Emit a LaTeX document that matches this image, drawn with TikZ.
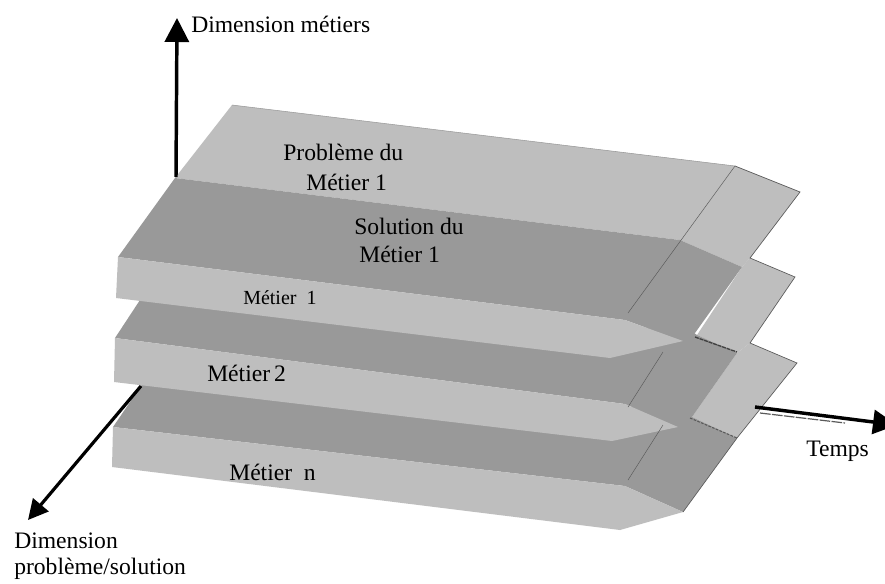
\documentclass[tikz,border=0pt]{standalone}
\usepackage{fontspec}
\setmainfont{Liberation Serif}
\usetikzlibrary{arrows.meta,positioning}

\definecolor{lightface}{HTML}{BEBEBE}
\definecolor{darkface}{HTML}{999999}
\definecolor{edgegray}{HTML}{5A5A5A}

\begin{document}
\begin{tikzpicture}[
    x=0.75pt, y=-0.75pt,
    label/.style={inner sep=0pt, font=\fontsize{17.7}{20}\selectfont},
    smalllabel/.style={inner sep=0pt, font=\fontsize{15}{18}\selectfont},
    light/.style={fill=lightface, draw=none},
    dark/.style={fill=darkface, draw=none},
    edge/.style={draw=edgegray, line width=0.5pt},
    softedge/.style={draw=black!40, line width=0.4pt},
    fold/.style={draw=edgegray, line width=0.35pt},
    rim/.style={draw=black!75, line width=1pt, dash pattern=on 3pt off 0.6pt},
    axis/.style={-{Triangle[length=18pt, width=18pt]}, line width=2.6pt},
    axisthin/.style={-{Triangle[length=15pt, width=15pt]}, line width=2.4pt}
]
\clip (0,0) rectangle (885,583);
\fill[white] (0,0) rectangle (885,583);

% bottom layer
\fill[light] (692,417) -- (737,353) -- (750,343) -- (797,363) -- (737,438) -- cycle;
\fill[dark] (143,383) -- (690,410) -- (692,417) -- (737,438) -- (683,512) -- (625,486) -- (113,427) -- cycle;
\fill[light] (113,427) -- (625,486) -- (683,512) -- (620,530) -- (112,467) -- cycle;

% middle layer
\fill[light] (697,335) -- (742,267) -- (750,258) -- (795,277) -- (750,343) -- (737,353) -- cycle;
\fill[dark] (140,300) -- (690,330) -- (697,335) -- (737,353) -- (692,417) -- (678,427) -- (625,404) -- (115,338) -- cycle;
\fill[light] (115,338) -- (625,404) -- (678,427) -- (612,441) -- (114,382) -- cycle;

% top layer
\fill[light] (232,105) -- (735,166) -- (800,192) -- (750,258) -- (742,267) -- (680,240) -- (175,178) -- cycle;
\fill[dark] (175,178) -- (680,240) -- (742,267) -- (695,333) -- (683,341) -- (625,320) -- (118,257) -- cycle;
\fill[light] (118,257) -- (625,320) -- (683,341) -- (610,358) -- (116,298) -- cycle;

\coordinate (foldAtop) at (735,166);
\coordinate (foldAbot) at (628,313);
\coordinate (foldBtop) at (663,352);
\coordinate (foldBbot) at (628,407);
\coordinate (foldCtop) at (663,425);
\coordinate (foldCbot) at (628,480);
\draw[fold] (foldAtop) -- (foldAbot);
\draw[fold] (foldBtop) -- (foldBbot);
\draw[fold] (foldCtop) -- (foldCbot);

\coordinate (rimAa) at (232,105);
\coordinate (rimAb) at (735,166);
\coordinate (rimAc) at (800,192);
\coordinate (rimAd) at (750,258);
\coordinate (rimBa) at (795,277);
\coordinate (rimBb) at (750,343);
\coordinate (rimCa) at (797,363);
\coordinate (rimCb) at (737,438);
\coordinate (rimCc) at (683,512);
\draw[softedge] (rimAa) -- (rimAb);
\draw[edge] (rimAb) -- (rimAc) -- (rimAd) -- (rimBa) -- (rimBb) -- (rimCa) -- (rimCb) -- (rimCc);

\coordinate (markAa) at (695,337);
\coordinate (markAb) at (737,352);
\coordinate (markBa) at (690,418);
\coordinate (markBb) at (737,438);
\draw[rim] (markAa) -- (markAb);
\draw[edge, dash pattern=on 2pt off 1pt, line width=0.8pt] (markBa) -- (markBb);

% axes
\coordinate (origUp) at (176,177);
\coordinate (tipUp) at (177,18);
\coordinate (origLeft) at (141,386);
\coordinate (tipLeft) at (28,520);
\coordinate (origRight) at (755,407);
\coordinate (tipRight) at (897,425);
\coordinate (shadowA) at (760,413);
\coordinate (shadowB) at (845,423);
\draw[edge, dash pattern=on 8pt off 1pt, line width=0.9pt] (shadowA) -- (shadowB);
\draw[axis] (origUp) -- (tipUp);
\draw[axisthin] (origLeft) -- (tipLeft);
\draw[axis] (origRight) -- (tipRight);

\node[label, anchor=west] (dimMetiers) at (191,24) {Dimension métiers};
\node[label, anchor=west] (probA) at (283,152) {Problème du};
\node[label, anchor=west] (probB) at (306,182) {Métier 1};
\node[label, anchor=west] (solA) at (354,226) {Solution du};
\node[label, anchor=west] (solB) at (359,254) {Métier 1};
\node[smalllabel, anchor=west] (metierA) at (243,298) {Métier\ \ 1};
\node[label, anchor=west] (metierB) at (207,373) {Métier\,2};
\node[label, anchor=west] (metierN) at (229,472) {Métier\ \ n};
\node[label, anchor=west] (temps) at (806,451) {Temps};
\node[label, anchor=west] (dimA) at (14,541) {Dimension};
\node[label, anchor=west] (dimB) at (14,569) {problème/solution};
\end{tikzpicture}
\end{document}
